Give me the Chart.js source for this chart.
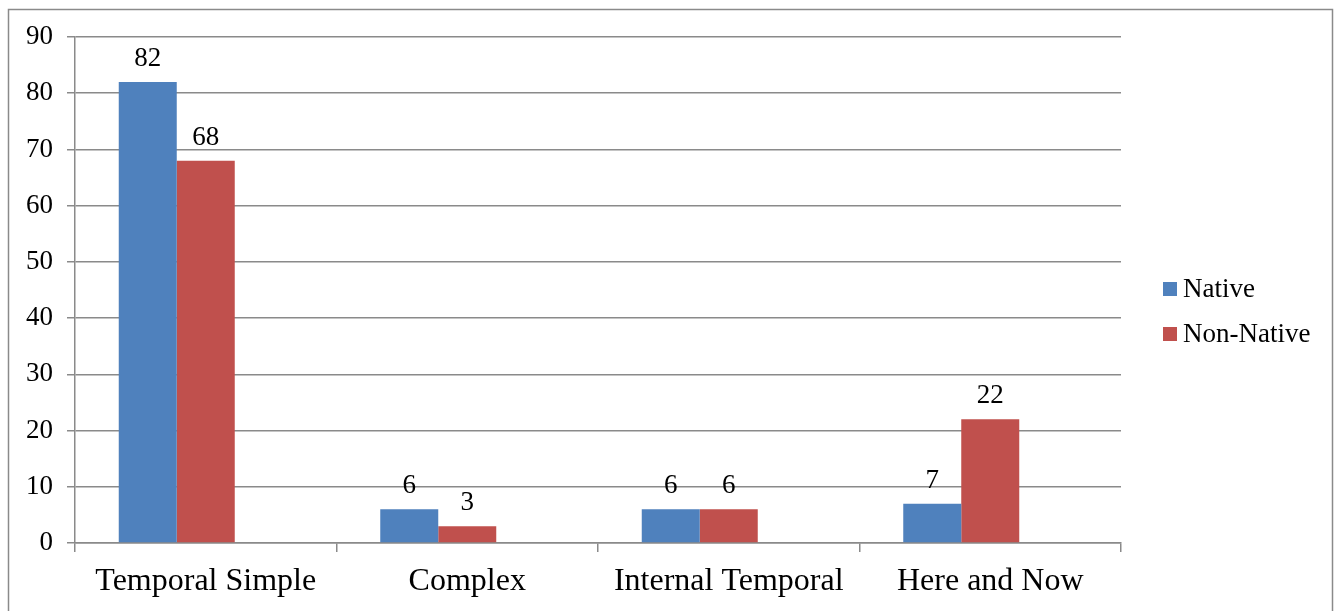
<!DOCTYPE html>
<html>
  <head>
    <title>Native vs Non-Native</title>
    <script src="https://cdn.jsdelivr.net/npm/chart.js"></script>
    <style>
      body { margin: 0; background: #fff; }
    </style>
  </head>
  <body>
    <canvas id="chart" width="1335" height="611"></canvas>

    <script>
      // 차트 데이터
      const categories = ["Temporal Simple", "Complex", "Internal Temporal", "Here and Now"];
      const nativeValues = [82, 6, 6, 7];
      const nonNativeValues = [68, 3, 6, 22];
      const seriesNames = ["Native", "Non-Native"];
      const yTicks = [0, 10, 20, 30, 40, 50, 60, 70, 80, 90];

      const gridColor = "#8a8a8a";
      const serif = "'Liberation Serif', 'Times New Roman', serif";

      // 바깥 테두리
      const frame = {
        id: "frame",
        beforeDraw(chart) {
          const c = chart.ctx;
          c.save();
          c.strokeStyle = "#8a8a8a";
          c.lineWidth = 1.5;
          c.strokeRect(8.5, 9.5, 1324, 640);
          c.restore();
        },
      };

      // 막대 위 값 표시
      const valueLabels = {
        id: "valueLabels",
        afterDatasetsDraw(chart) {
          const c = chart.ctx;
          c.save();
          c.font = "27px " + serif;
          c.fillStyle = "#000";
          c.textAlign = "center";
          c.textBaseline = "alphabetic";
          [0, 1].forEach((i) => {
            const meta = chart.getDatasetMeta(i);
            meta.data.forEach((bar, j) => {
              const v = chart.data.datasets[i].data[j];
              c.fillText(String(v), bar.x, bar.y - 16);
            });
          });
          c.restore();
        },
      };

      // 오른쪽 범례
      const sideLegend = {
        id: "sideLegend",
        afterDraw(chart) {
          const c = chart.ctx;
          c.save();
          c.font = "27px " + serif;
          c.textBaseline = "middle";
          c.textAlign = "left";
          seriesNames.forEach((name, i) => {
            const y = 289 + i * 45;
            c.fillStyle = chart.data.datasets[i].backgroundColor;
            c.fillRect(1163, y - 7, 14, 14);
            c.fillStyle = "#000";
            c.fillText(name, 1183, y + 1);
          });
          c.restore();
        },
      };

      const ctx = document.getElementById("chart").getContext("2d");
      new Chart(ctx, {
        type: "bar",
        data: {
          labels: categories,
          datasets: [
            { label: seriesNames[0], data: nativeValues, backgroundColor: "#4f81bd" },
            { label: seriesNames[1], data: nonNativeValues, backgroundColor: "#c0504d" },
            { label: "", data: categories.map(() => null), backgroundColor: "rgba(0,0,0,0)" },
          ],
        },
        options: {
          responsive: false,
          animation: false,
          devicePixelRatio: 1,
          categoryPercentage: 174 / 261.5,
          barPercentage: 1,
          layout: { padding: { top: 37, right: 214, bottom: 0, left: 0 } },
          plugins: {
            legend: { display: false },
            tooltip: { enabled: false },
          },
          scales: {
            x: {
              offset: true,
              afterFit(scale) { scale.height = 68; },
              grid: {
                offset: true,
                drawOnChartArea: false,
                drawTicks: true,
                tickLength: 9,
                color: gridColor,
                lineWidth: 1.5,
              },
              border: { color: gridColor, width: 1.5 },
              ticks: {
                color: "#000",
                font: { family: serif, size: 32 },
                padding: 10,
                maxRotation: 0,
              },
            },
            y: {
              min: 0,
              max: 90,
              afterFit(scale) { scale.width = 75; },
              afterBuildTicks(scale) {
                scale.ticks = yTicks.map((v) => ({ value: v }));
              },
              grid: {
                color: gridColor,
                lineWidth: 1.5,
                tickLength: 8,
              },
              border: { color: gridColor, width: 1.5 },
              ticks: {
                color: "#000",
                font: { family: serif, size: 27 },
                padding: 14,
              },
            },
          },
        },
        plugins: [frame, valueLabels, sideLegend],
      });
    </script>
  </body>
</html>
